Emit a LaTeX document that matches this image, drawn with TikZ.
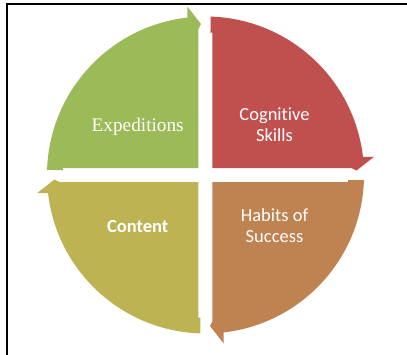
\documentclass[tikz,border=0pt]{standalone}
\usepackage{fontspec}
\setmainfont{Carlito}[Ligatures={NoCommon}]
\newfontfamily\serifx{Liberation Serif}
\definecolor{cred}{HTML}{C0504D}
\definecolor{cbrown}{HTML}{BE8350}
\definecolor{colive}{HTML}{BEB353}
\definecolor{cgreen}{HTML}{9BBB59}
\tikzset{
  cyc/.pic={
    \fill (178.19:158.5) -- (-142.5,5) -- (-142.5,7) -- (-7,7) -- (-7,146)
      -- (-4.5,151) -- (-18.2,168.5) -- (-18.2,157.45)
      arc[start angle=96.59, end angle=178.19, radius=158.5] -- cycle;
  },
  lbl/.style={text=white, inner sep=0pt, align=center,
    font=\fontsize{18.5}{20.5}\selectfont}
}
\begin{document}
\begin{tikzpicture}[x=1pt,y=1pt]
\useasboundingbox (-205.5,-179) rectangle (201.5,175);
\fill[white] (-205.5,-179) rectangle (201.5,175);
\begin{scope}
  \clip (-205.5,-179) rectangle (201.5,175);
  \draw[line width=2pt] (-198.5,-190) -- (-198.5,171.3) -- (210,171.3);
\end{scope}
\pic (green) [color=cgreen] {cyc};
\pic (red) [color=cred, rotate=-90] {cyc};
\pic (brown) [color=cbrown, rotate=180] {cyc};
\pic (olive) [color=colive, rotate=90] {cyc};
\node[lbl, anchor=base, font=\serifx\fontsize{19.25}{22}\selectfont] (t1) at (-67.8,43.3) {Expeditions};
\node[lbl] (t2) at (69,50.2) {Cognitive\\Skills};
\node[lbl] (t3) at (69,-50.8) {Habits of\\Success};
\node[lbl, anchor=base, font=\bfseries\fontsize{18.5}{20.5}\selectfont] (t4) at (-67.8,-57.3) {Content};
\end{tikzpicture}
\end{document}
